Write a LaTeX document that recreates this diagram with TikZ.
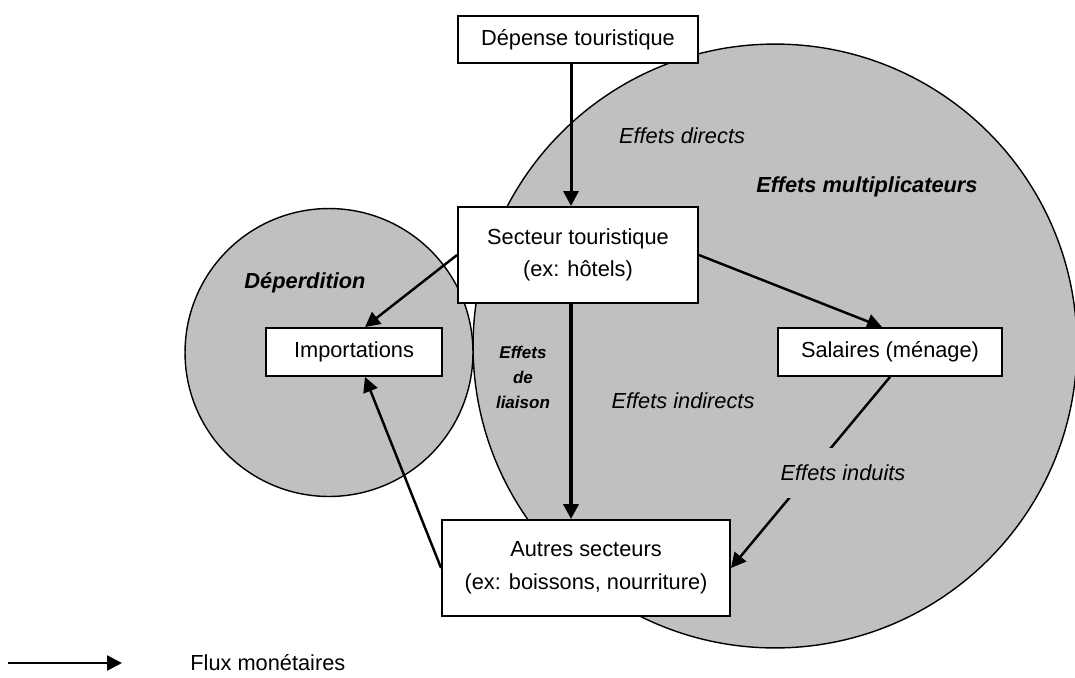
\documentclass[tikz,border=0pt]{standalone}
\usepackage{fontspec}
\setmainfont{Liberation Sans}
\usepackage{xcolor}
\usepackage{tikz}
\usetikzlibrary{positioning}
\usetikzlibrary{calc}
\usetikzlibrary{arrows.meta}

\definecolor{fondgris}{RGB}{192,192,192}

\newcommand{\taillenormale}{\fontsize{12.4}{18.5}\selectfont}

\tikzset{
  boite/.style={draw, fill=white, line width=1.1pt, align=center, inner sep=0pt},
  fleche/.style={-{Triangle[length=8.5pt,width=8.5pt]}, line width=1.4pt},
  effet/.style={font=\taillenormale\itshape},
  effetgras/.style={font=\taillenormale\bfseries\itshape}
}

\begin{document}
\begin{tikzpicture}[x=0.02cm, y=-0.02cm, font=\taillenormale]

\useasboundingbox (0,0) rectangle (1075,677);

% Circles
\draw[fill=fondgris, line width=0.8pt] (775,346) circle[radius=6.04cm];
\draw[fill=fondgris, line width=0.8pt] (329,352.5) circle[radius=2.88cm];

% Boxes
\node[boite, minimum width=4.8cm, minimum height=0.94cm] (depense) at (578,39.5) {Dépense touristique};
\node[boite, minimum width=4.8cm, minimum height=1.92cm] (secteur) at (578,255) {Secteur touristique\\(ex: hôtels)};
\node[boite, minimum width=3.52cm, minimum height=0.96cm] (import) at (354,352) {Importations};
\node[boite, minimum width=4.48cm, minimum height=0.96cm] (salaires) at (890,352) {Salaires (ménage)};
\node[boite, minimum width=5.76cm, minimum height=1.92cm] (autres) at (586,568) {Autres secteurs\\(ex: boissons, nourriture)};

% Vertical axis of the arrows
\coordinate (axe) at (571,0);

\draw[fleche, line width=1.7pt] (depense.south -| axe) -- (secteur.north -| axe);
\draw[fleche, line width=2.3pt] (secteur.south -| axe) -- (autres.north -| axe);

\draw[fleche] (secteur.west) -- ($(import.north)+(11,0)$);
\draw[fleche] (secteur.east) -- ($(salaires.north)+(-8,0)$);
\draw[fleche] (salaires.south) -- (autres.east);
\draw[fleche] (autres.west) -- ($(import.south)+(11,0)$);

% Labels
\node[effet, fill=fondgris, inner xsep=2pt, inner ysep=9.5pt] (induits) at (843,473) {Effets induits};
\node[effet] (directs) at (682,136) {Effets directs};
\node[effet] (indirects) at (683,401) {Effets indirects};
\node[effetgras] (multi) at (867,187) {Effets multiplicateurs};
\node[effetgras] (deperdition) at (305,283) {Déperdition};
\node[align=center, font=\fontsize{9.7}{14.2}\selectfont\bfseries\itshape] (liaison) at (523,377) {Effets\\de\\liaison};

% Legend
\coordinate (legdebut) at (8,663);
\coordinate (legfin) at (122,663);
\draw[fleche] (legdebut) -- (legfin);
\node[anchor=west, inner sep=0pt] (legende) at (190,663) {Flux monétaires};

\end{tikzpicture}
\end{document}
